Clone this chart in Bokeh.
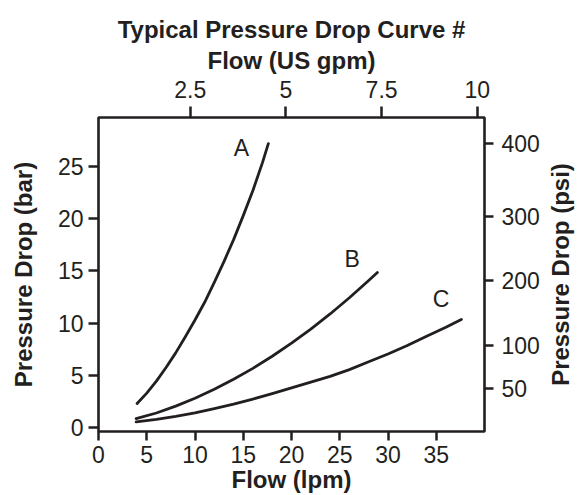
import math
from bokeh.plotting import figure
from bokeh.models import Range1d, LinearAxis, FixedTicker, ColumnDataSource, Label
from bokeh.embed import file_html
from bokeh.resources import INLINE
from bokeh.core.properties import value

# ---- data ----
flow_a = [4.0, 5.0, 6.0, 7.0, 8.0, 9.0, 10.0, 11.0, 12.0, 13.0, 14.0, 15.0, 16.0, 17.0, 17.6]
drop_a = [2.3, 3.3, 4.45, 5.75, 7.15, 8.7, 10.3, 12.0, 13.9, 15.9, 18.0, 20.3, 22.7, 25.4, 27.2]
flow_b = [3.9, 6.0, 8.0, 10.0, 12.0, 14.0, 16.0, 18.0, 20.0, 22.0, 24.0, 26.0, 28.0, 28.9]
drop_b = [0.85, 1.39, 2.05, 2.8, 3.66, 4.62, 5.67, 6.83, 8.08, 9.43, 10.88, 12.43, 14.08, 14.85]
flow_c = [3.9, 6.0, 8.0, 10.0, 12.0, 14.0, 16.0, 18.0, 20.0, 22.0, 24.0, 26.0, 28.0, 30.0, 32.0, 34.0, 36.0, 37.6]
drop_c = [0.55, 0.78, 1.07, 1.41, 1.82, 2.25, 2.73, 3.25, 3.8, 4.35, 4.9, 5.55, 6.3, 7.05, 7.85, 8.75, 9.6, 10.35]

curve_names = ["A", "B", "C"]
name_flow = [14.8, 26.3, 35.5]
name_drop = [26.8, 16.1, 12.3]

lpm_ticks = [0, 5, 10, 15, 20, 25, 30, 35]
bar_ticks = [0, 5, 10, 15, 20, 25]
gpm_ticks = [2.5, 5, 7.5, 10]
gpm_labels = ["2.5", "5", "7.5", "10"]
psi_labels = ["50", "100", "200", "300", "400"]
psi_at_bar = [3.7, 7.9, 14.07, 20.24, 27.23]

FONT = "Liberation Sans"
INK = "#231f20"

X0, X1 = 0, 40
Y0, Y1 = -0.38, 29.7

p = figure(width=585, height=495,
           x_range=Range1d(X0, X1), y_range=Range1d(Y0, Y1),
           output_backend="svg", toolbar_location=None,
           min_border_left=98, min_border_right=101,
           min_border_top=117, min_border_bottom=61,
           title="Typical Pressure Drop Curve #")
p.extra_x_ranges = {"gpm": Range1d(0.1, 10.19)}

p.background_fill_color = "white"
p.border_fill_color = "white"
p.outline_line_color = INK
p.outline_line_width = 2.6
p.xgrid.visible = False
p.ygrid.visible = False

p.title.text_font = FONT
p.title.text_font_size = "24px"
p.title.text_font_style = "bold"
p.title.text_color = INK
p.title.align = "center"
p.title.standoff = 2

def style_axis(ax, tick_out, standoff, label_standoff):
    ax.axis_line_color = None
    ax.major_tick_line_color = INK
    ax.major_tick_line_width = 2.5
    ax.major_tick_in = 0
    ax.major_tick_out = tick_out
    ax.minor_tick_line_color = None
    ax.major_label_text_font = FONT
    ax.major_label_text_font_size = "23px"
    ax.major_label_text_color = INK
    ax.major_label_standoff = standoff
    ax.axis_label_text_font = FONT
    ax.axis_label_text_font_size = "24px"
    ax.axis_label_text_font_style = "bold"
    ax.axis_label_text_color = INK
    ax.axis_label_standoff = label_standoff

xb = p.xaxis[0]
xb.ticker = FixedTicker(ticks=lpm_ticks)
xb.axis_label = "Flow (lpm)"
style_axis(xb, 9, 5, 0)

yl = p.yaxis[0]
yl.ticker = FixedTicker(ticks=bar_ticks)
yl.axis_label = "Pressure Drop (bar)"
style_axis(yl, 10, 5, 18)

xt = LinearAxis(x_range_name="gpm", ticker=FixedTicker(ticks=gpm_ticks),
                axis_label="Flow (US gpm)")
xt.major_label_overrides = {t: s for t, s in zip(gpm_ticks, gpm_labels)}
style_axis(xt, 11, 9, 4)
p.add_layout(xt, "above")

yr = LinearAxis(ticker=FixedTicker(ticks=psi_at_bar))
yr.major_label_overrides = {t: s for t, s in zip(psi_at_bar, psi_labels)}
style_axis(yr, 9, 8, 12)
p.add_layout(yr, "right")

# right-hand axis title, reading bottom-to-top like the left one,
# placed in its own panel to the right of the psi axis
psi_title = Label(x=18, y=157, x_units="screen", y_units="screen",
                  text="Pressure Drop (psi)", angle=math.pi / 2,
                  text_font=FONT, text_font_size="24px", text_font_style="bold",
                  text_color=INK, text_align="center", text_baseline="alphabetic")
p.add_layout(psi_title, "right")

for fx, dy in ((flow_a, drop_a), (flow_b, drop_b), (flow_c, drop_c)):
    p.line(fx, dy, line_color=INK, line_width=2.8, line_cap="round", line_join="round")

src = ColumnDataSource(dict(x=name_flow, y=name_drop, t=curve_names))
p.text(x="x", y="y", text="t", source=src, text_font=value(FONT),
       text_font_size="23px", text_color=INK, text_align="center",
       text_baseline="middle")

open("out.html", "w").write(file_html(p, INLINE))
